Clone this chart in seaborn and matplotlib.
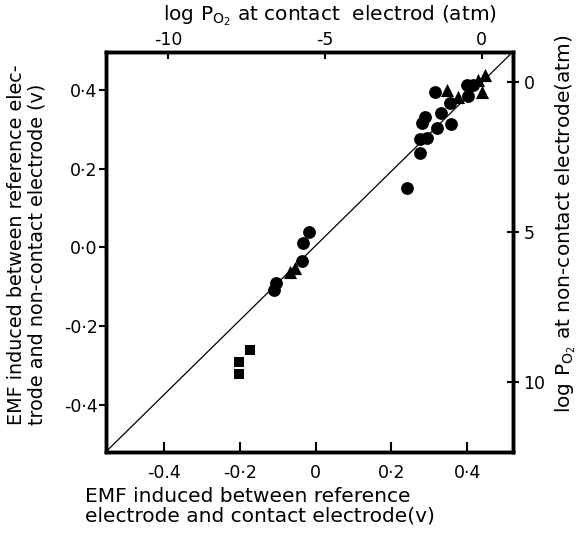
import matplotlib
matplotlib.use("Agg")
import matplotlib.pyplot as plt
import seaborn as sns
import pandas as pd

# EMF (V): x = reference vs contact electrode, y = reference vs non-contact electrode
circle_x = [0.316, 0.399, 0.403, 0.288, 0.282, 0.330, 0.354, 0.356, 0.321, 0.275,
            0.294, 0.275, 0.242, -0.018, -0.034, -0.035, -0.104, -0.111, 0.416]
circle_y = [0.395, 0.412, 0.384, 0.332, 0.315, 0.342, 0.366, 0.313, 0.302, 0.274,
            0.277, 0.240, 0.152, 0.038, 0.012, -0.034, -0.091, -0.108, 0.412]
triangle_x = [0.346, 0.376, 0.438, 0.447, 0.428, -0.069, -0.056]
triangle_y = [0.400, 0.381, 0.395, 0.438, 0.425, -0.062, -0.053]
square_x = [-0.173, -0.204, -0.204]
square_y = [-0.261, -0.292, -0.322]

x_ticks = [-0.4, -0.2, 0.0, 0.2, 0.4]
x_tick_labels = ["-0.4", "-0·2", "0", "0·2", "0·4"]
y_ticks = [-0.4, -0.2, 0.0, 0.2, 0.4]
y_tick_labels = ["-0·4", "-0·2", "0·0", "0·2", "0·4"]
top_ticks = [-10, -5, 0]
top_tick_labels = ["-10", "-5", "0"]
right_ticks = [0, 5, 10]
right_tick_labels = ["0", "5", "10"]

df = pd.concat([
    pd.DataFrame({"emf_c": circle_x, "emf_nc": circle_y, "kind": "circle"}),
    pd.DataFrame({"emf_c": triangle_x, "emf_nc": triangle_y, "kind": "triangle"}),
    pd.DataFrame({"emf_c": square_x, "emf_nc": square_y, "kind": "square"}),
], ignore_index=True)

sns.set_style("ticks")
plt.rcParams["font.family"] = ["DejaVu Sans"]
plt.rcParams.update({"text.color": "black", "xtick.color": "black",
                     "ytick.color": "black", "axes.labelcolor": "black"})

fig = plt.figure(figsize=(5.78, 5.38), dpi=100)
ax = fig.add_axes([0.1834, 0.1604, 0.7041, 0.7435])

marks = {"circle": ("o", 85), "triangle": ("^", 90), "square": ("s", 60)}
for kind, (m, s) in marks.items():
    sns.scatterplot(data=df[df["kind"] == kind], x="emf_c", y="emf_nc", marker=m, s=s,
                    color="black", edgecolor="black", linewidth=0, ax=ax, legend=False)

ax.plot([0, 1], [0, 1], transform=ax.transAxes, color="black", lw=0.9)

ax.set_xlim(-0.554, 0.521)
ax.set_ylim(-0.519, 0.497)
ax.set_xticks(x_ticks)
ax.set_xticklabels(x_tick_labels)
ax.set_yticks(y_ticks)
ax.set_yticklabels(y_tick_labels)
ax.set_xlabel("")
ax.set_ylabel("")
ax.tick_params(axis="x", direction="in", length=7, width=1.5, labelsize=12.5, pad=9)
ax.tick_params(axis="y", direction="out", length=5, width=1.5, labelsize=12.5, pad=1)

top = ax.twiny()
top.set_xlim(-11.97, 1.0)
top.set_xticks(top_ticks)
top.set_xticklabels(top_tick_labels)
top.tick_params(axis="x", direction="in", length=5, width=1.5, labelsize=12.5, pad=2)

right = ax.twinx()
right.set_ylim(12.33, -1.0)
right.set_yticks(right_ticks)
right.set_yticklabels(right_tick_labels)
right.tick_params(axis="y", direction="inout", length=9, width=1.5, labelsize=12.5, pad=3)

for a in (ax, top, right):
    for sp in a.spines.values():
        sp.set_linewidth(2.4)
        sp.set_color("black")

fig.text(85 / 578, 1 - 506 / 538, "EMF induced between reference\nelectrode and contact electrode(v)",
         fontsize=14.5, ha="left", va="center", linespacing=1.05)
fig.text(27 / 578, 1 - 425 / 538, "EMF induced between reference elec-\ntrode and non-contact electrode (v)",
         fontsize=13.8, rotation=90, ha="center", va="bottom", multialignment="left", linespacing=1.1)
fig.text(330 / 578, 1 - 3 / 538, "log P$_{\\mathregular{O_2}}$ at contact  electrod (atm)",
         fontsize=14.5, ha="center", va="top")
fig.text(566 / 578, 1 - 413 / 538, "log P$_{\\mathregular{O_2}}$ at non-contact electrode(atm)",
         fontsize=14.5, rotation=90, ha="center", va="bottom")

fig.savefig("out.png", dpi=100)
